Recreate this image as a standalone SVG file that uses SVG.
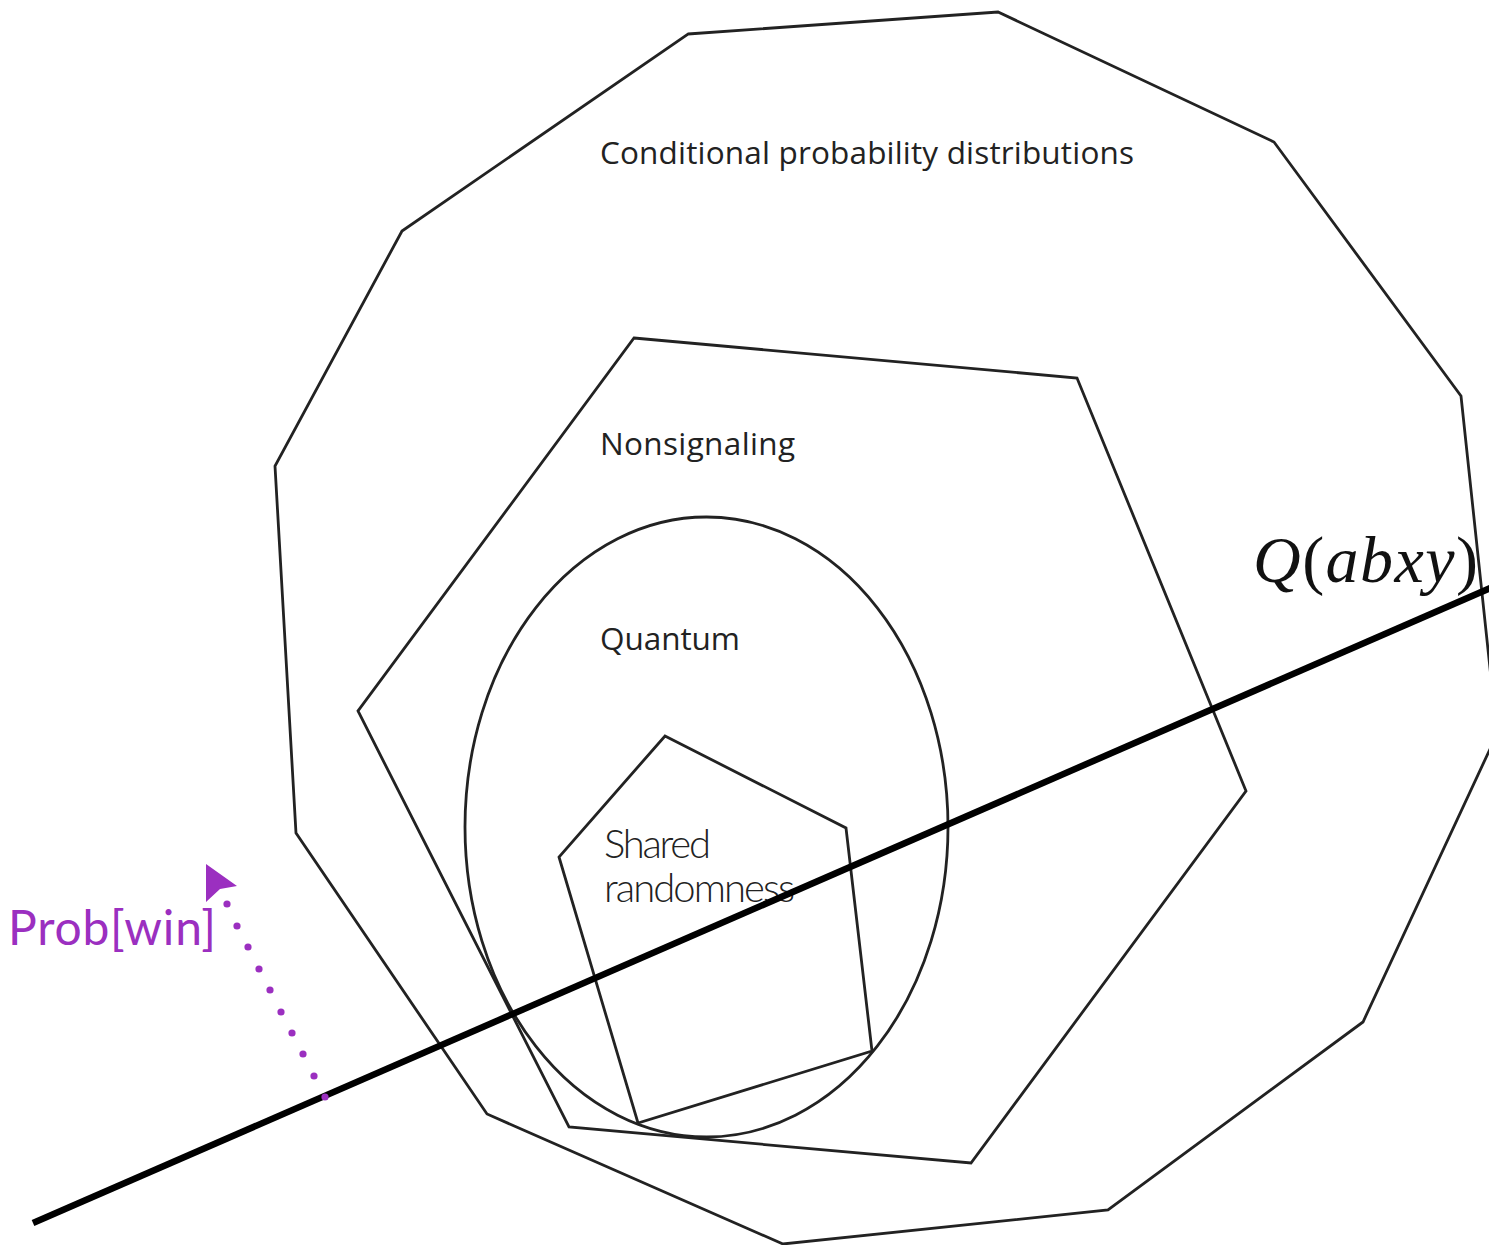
<svg xmlns="http://www.w3.org/2000/svg" width="1489" height="1245" viewBox="0 0 1489 1245">
<style>
.shape{fill:none;stroke:#222;stroke-width:2.8;stroke-linejoin:miter}
.lbl{font-family:"Open Sans","Noto Sans",sans-serif;font-size:31.5px;fill:#222}
.light{font-family:"Lato","Open Sans",sans-serif;font-weight:300;font-size:40px;fill:#222}
.math{font-family:"Liberation Serif","DejaVu Serif",serif;font-size:66px;fill:#111}
.purple{fill:#9b2fc0}
</style>
<rect width="1489" height="1245" fill="#fff"/>
<g id="cpd">
<polygon class="shape" points="688,34 998,12 1274,142 1461,396 1497,734 1363,1022 1108,1210 783,1244 487,1114 296,833 275,466 402,231"/>
<text class="lbl" x="600" y="164" textLength="534">Conditional probability distributions</text>
</g>
<g id="nonsignaling">
<polygon class="shape" points="634,338 1077,378 1246,791 971,1163 569,1127 358,711"/>
<text class="lbl" x="600" y="455" textLength="195">Nonsignaling</text>
</g>
<g id="quantum">
<ellipse class="shape" cx="706.5" cy="827" rx="241.5" ry="310"/>
<text class="lbl" x="600" y="650" textLength="140">Quantum</text>
</g>
<g id="shared">
<polygon class="shape" points="665,736 846,828 872,1051 638,1123 559,857"/>
<text class="light" x="604" y="858" textLength="107">Shared</text>
<text class="light" x="604" y="902" textLength="191">randomness</text>
</g>
<g id="connectors">
<line x1="33" y1="1223" x2="1495" y2="586" stroke="#000" stroke-width="6.5"/>
<g class="purple">
<circle cx="227" cy="904" r="3.6"/><circle cx="237" cy="926" r="3.6"/><circle cx="248" cy="947" r="3.6"/><circle cx="259" cy="969" r="3.6"/><circle cx="270" cy="990" r="3.6"/><circle cx="281" cy="1012" r="3.6"/><circle cx="292" cy="1033" r="3.6"/><circle cx="303" cy="1054" r="3.6"/><circle cx="314" cy="1076" r="3.6"/><circle cx="325" cy="1097" r="3.6"/>
<polygon points="206,864 237,886 220,889 206,902"/>
</g>
</g>
<g id="qlabel">
<text class="math" x="1253" y="582" textLength="225"><tspan font-style="italic">Q</tspan>(<tspan font-style="italic">abxy</tspan>)</text>
</g>
<g id="probwin">
<text class="purple" x="8" y="945" font-family="Lato,'Open Sans',sans-serif" font-size="48" textLength="208">Prob[win]</text>
</g>
</svg>
